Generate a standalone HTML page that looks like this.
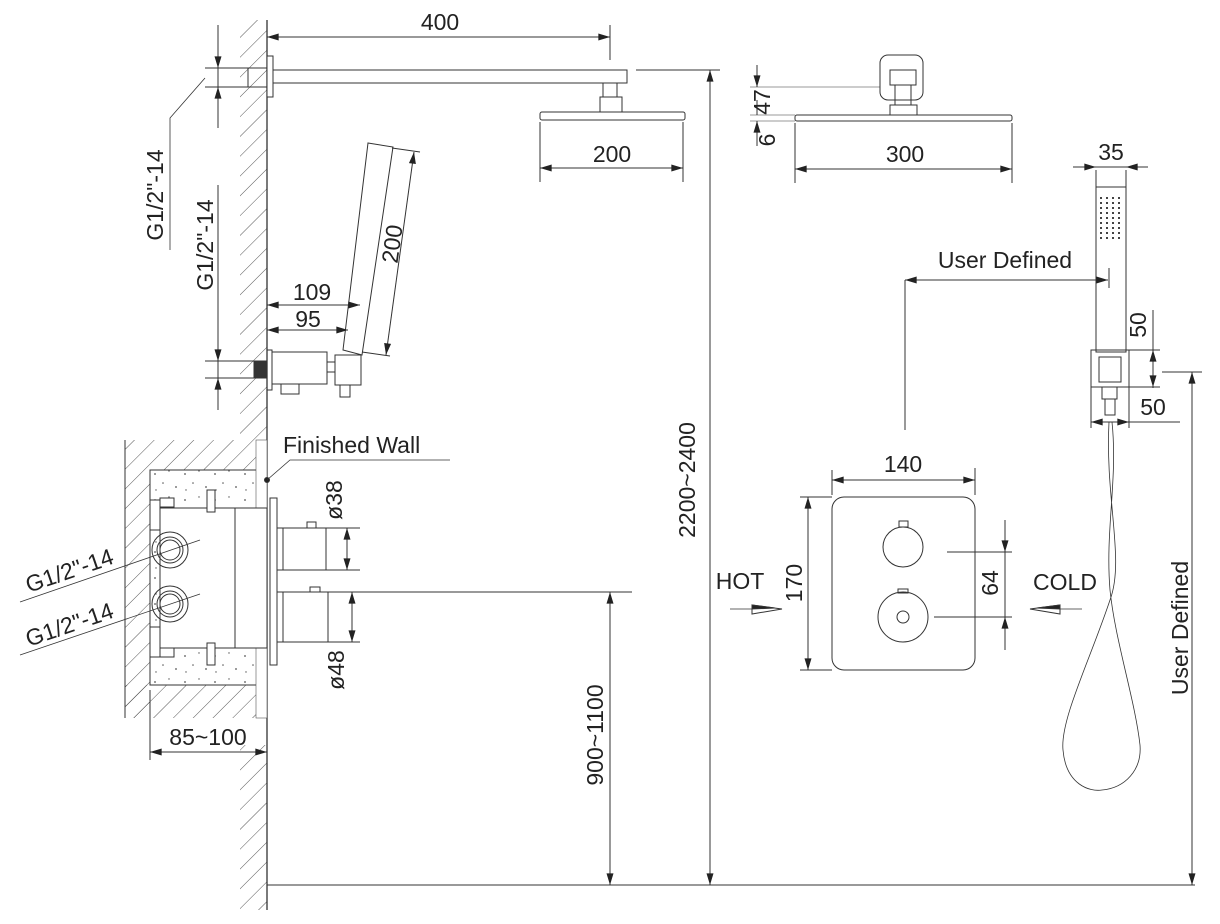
<!DOCTYPE html>
<html><head><meta charset="utf-8"><style>
html,body{margin:0;padding:0;background:#fff;}
svg{display:block;}
text{font-family:"Liberation Sans",sans-serif;fill:#222;}
</style></head><body>
<svg width="1220" height="924" viewBox="0 0 1220 924" xmlns="http://www.w3.org/2000/svg">
<defs>
<marker id="a" viewBox="0 0 10 6" refX="10" refY="3" markerWidth="16" markerHeight="7" markerUnits="userSpaceOnUse" orient="auto-start-reverse"><path d="M0,0L10,3L0,6z" fill="#222"/></marker>
<pattern id="h" patternUnits="userSpaceOnUse" width="14" height="14" patternTransform="rotate(45)"><line x1="0" y1="0" x2="0" y2="14" stroke="#444" stroke-width="0.9"/></pattern>
<pattern id="sp" patternUnits="userSpaceOnUse" width="30" height="26"><circle cx="5" cy="6" r="0.9" fill="#555"/><circle cx="19" cy="3" r="0.7" fill="#555"/><circle cx="13" cy="15" r="0.8" fill="#555"/><circle cx="26" cy="19" r="0.9" fill="#555"/><circle cx="6" cy="22" r="0.7" fill="#555"/></pattern>
</defs>
<g stroke="#333" stroke-width="1" fill="none">
<!-- wall hatch -->
<rect x="240" y="20" width="27" height="420" fill="url(#h)" stroke="none"/>
<rect x="240" y="745" width="27" height="165" fill="url(#h)" stroke="none"/>
<rect x="125" y="440" width="142" height="30" fill="url(#h)" stroke="none"/>
<rect x="125" y="470" width="25" height="248" fill="url(#h)" stroke="none"/>
<rect x="125" y="685" width="142" height="33" fill="url(#h)" stroke="none"/>
<line x1="125" y1="440" x2="125" y2="718"/>
<line x1="267" y1="20" x2="267" y2="910" stroke-width="1.3"/>
<line x1="267" y1="885" x2="1195" y2="885"/>
<!-- concrete box -->
<rect x="150" y="470" width="117" height="215" fill="#fff"/>
<rect x="150" y="470" width="117" height="215" fill="url(#sp)"/>
<rect x="256" y="440" width="11" height="278" fill="#fff" stroke="#555" stroke-width="0.6"/>
<rect x="160" y="508" width="107" height="140" fill="#fff"/>
<line x1="235" y1="508" x2="235" y2="648"/>
<rect x="150" y="500" width="10" height="30" fill="#fff"/>
<rect x="150" y="627" width="10" height="30" fill="#fff"/>
<rect x="160" y="498" width="14" height="9" fill="#fff"/>
<rect x="160" y="648" width="14" height="9" fill="#fff"/>
<rect x="207" y="490" width="8" height="22" fill="#fff"/>
<rect x="207" y="643" width="8" height="22" fill="#fff"/>
<circle cx="170" cy="550" r="18"/><circle cx="170" cy="550" r="13"/><circle cx="170" cy="550" r="10"/>
<circle cx="170" cy="604" r="18"/><circle cx="170" cy="604" r="13"/><circle cx="170" cy="604" r="10"/>
<line x1="20" y1="602" x2="200" y2="540" stroke-width="0.8"/>
<line x1="20" y1="655" x2="200" y2="594" stroke-width="0.8"/>
<!-- cover & knobs -->
<rect x="270" y="498" width="7" height="167" fill="#fff"/>
<rect x="277" y="528" width="6" height="42"/><rect x="283" y="528" width="43" height="42"/>
<rect x="307" y="522" width="9" height="6"/>
<rect x="277" y="592" width="6" height="50"/><rect x="283" y="592" width="45" height="50"/>
<rect x="310" y="587" width="10" height="5"/>
<line x1="326" y1="528" x2="360" y2="528"/><line x1="326" y1="570" x2="360" y2="570"/>
<line x1="347" y1="528" x2="347" y2="570" marker-start="url(#a)" marker-end="url(#a)"/>
<line x1="328" y1="592" x2="632" y2="592"/><line x1="328" y1="642" x2="360" y2="642"/>
<line x1="352" y1="592" x2="352" y2="642" marker-start="url(#a)" marker-end="url(#a)"/>
<!-- finished wall leader -->
<circle cx="267" cy="480" r="2.5" fill="#222"/>
<polyline points="267,480 290,460 450,460" stroke-width="0.8"/>
<!-- 85~100 -->
<line x1="150" y1="690" x2="150" y2="760"/>
<line x1="150" y1="752" x2="267" y2="752" marker-start="url(#a)" marker-end="url(#a)"/>
<!-- 900~1100 -->
<line x1="610" y1="592" x2="610" y2="885" marker-start="url(#a)" marker-end="url(#a)"/>
<!-- top arm -->
<rect x="267" y="56" width="6" height="41" fill="#fff"/>
<rect x="248" y="68" width="19" height="19"/>
<rect x="273" y="70" width="354" height="13"/>
<line x1="267" y1="37" x2="610" y2="37" marker-start="url(#a)" marker-end="url(#a)"/>
<line x1="610" y1="25" x2="610" y2="60"/>
<line x1="636" y1="70" x2="720" y2="70"/>
<rect x="603" y="83" width="14" height="14"/><rect x="600" y="97" width="22" height="15"/>
<rect x="540" y="112" width="145" height="8" rx="2"/>
<line x1="540" y1="122" x2="540" y2="182"/><line x1="683" y1="122" x2="683" y2="182"/>
<line x1="540" y1="168" x2="683" y2="168" marker-start="url(#a)" marker-end="url(#a)"/>
<line x1="710" y1="70" x2="710" y2="885" marker-start="url(#a)" marker-end="url(#a)"/>
<!-- left G1/2 dims -->
<line x1="218" y1="25" x2="218" y2="128"/>
<line x1="205" y1="68" x2="248" y2="68"/><line x1="205" y1="87" x2="248" y2="87"/>
<line x1="218" y1="40" x2="218" y2="68" marker-end="url(#a)"/><line x1="218" y1="115" x2="218" y2="87" marker-end="url(#a)"/>
<polyline points="205,78 170,118 170,250" stroke-width="0.8"/>
<line x1="218" y1="185" x2="218" y2="410"/>
<line x1="205" y1="361" x2="258" y2="361"/><line x1="205" y1="378" x2="258" y2="378"/>
<line x1="218" y1="330" x2="218" y2="361" marker-end="url(#a)"/><line x1="218" y1="405" x2="218" y2="378" marker-end="url(#a)"/>
<!-- hand shower wall outlet -->
<rect x="267" y="350" width="5" height="40"/>
<rect x="254" y="361" width="13" height="17" fill="#333"/>
<rect x="272" y="352" width="55" height="32"/>
<rect x="281" y="384" width="18" height="10"/>
<rect x="327" y="362" width="8" height="10"/>
<rect x="335" y="355" width="26" height="30"/>
<rect x="340" y="385" width="10" height="12"/>
<polygon points="368,143 393,147 362,355 343,350" fill="#fff"/>
<line x1="267" y1="305" x2="360" y2="305" marker-start="url(#a)" marker-end="url(#a)"/>
<line x1="267" y1="330" x2="348" y2="330" marker-start="url(#a)" marker-end="url(#a)"/>
<line x1="392" y1="148" x2="420" y2="152"/><line x1="362" y1="352" x2="390" y2="356"/>
<line x1="414" y1="152" x2="386" y2="355" marker-start="url(#a)" marker-end="url(#a)"/>
<!-- right head -->
<rect x="880" y="55" width="43" height="45" rx="8"/>
<rect x="890" y="70" width="26" height="15"/>
<rect x="895" y="85" width="16" height="20"/>
<rect x="890" y="105" width="27" height="10"/>
<rect x="795" y="115" width="217" height="6" rx="2"/>
<line x1="750" y1="87" x2="880" y2="87" stroke-width="0.6"/>
<line x1="750" y1="115" x2="795" y2="115" stroke-width="0.6"/>
<line x1="750" y1="121" x2="795" y2="121" stroke-width="0.6"/>
<line x1="757" y1="65" x2="757" y2="87" marker-end="url(#a)"/><line x1="757" y1="100" x2="757" y2="115"/>
<line x1="757" y1="146" x2="757" y2="121" marker-end="url(#a)"/>
<line x1="795" y1="123" x2="795" y2="183"/><line x1="1012" y1="123" x2="1012" y2="183"/>
<line x1="795" y1="169" x2="1012" y2="169" marker-start="url(#a)" marker-end="url(#a)"/>
<!-- right handshower -->
<rect x="1096" y="187" width="30" height="165"/>
<rect x="1091" y="350" width="38" height="37"/>
<rect x="1099" y="357" width="22" height="25"/>
<rect x="1102" y="387" width="15" height="12"/><rect x="1105" y="399" width="10" height="16"/>
<g fill="#444" stroke="none">
<rect x="1100" y="197" width="2" height="2"/><rect x="1100" y="202" width="2" height="2"/><rect x="1100" y="207" width="2" height="2"/><rect x="1100" y="212" width="2" height="2"/><rect x="1100" y="217" width="2" height="2"/><rect x="1100" y="222" width="2" height="2"/><rect x="1100" y="227" width="2" height="2"/><rect x="1100" y="232" width="2" height="2"/><rect x="1100" y="237" width="2" height="2"/>
<rect x="1106" y="197" width="2" height="2"/><rect x="1106" y="202" width="2" height="2"/><rect x="1106" y="207" width="2" height="2"/><rect x="1106" y="212" width="2" height="2"/><rect x="1106" y="217" width="2" height="2"/><rect x="1106" y="222" width="2" height="2"/><rect x="1106" y="227" width="2" height="2"/><rect x="1106" y="232" width="2" height="2"/><rect x="1106" y="237" width="2" height="2"/>
<rect x="1112" y="197" width="2" height="2"/><rect x="1112" y="202" width="2" height="2"/><rect x="1112" y="207" width="2" height="2"/><rect x="1112" y="212" width="2" height="2"/><rect x="1112" y="217" width="2" height="2"/><rect x="1112" y="222" width="2" height="2"/><rect x="1112" y="227" width="2" height="2"/><rect x="1112" y="232" width="2" height="2"/><rect x="1112" y="237" width="2" height="2"/>
<rect x="1118" y="197" width="2" height="2"/><rect x="1118" y="202" width="2" height="2"/><rect x="1118" y="207" width="2" height="2"/><rect x="1118" y="212" width="2" height="2"/><rect x="1118" y="217" width="2" height="2"/><rect x="1118" y="222" width="2" height="2"/><rect x="1118" y="227" width="2" height="2"/><rect x="1118" y="232" width="2" height="2"/><rect x="1118" y="237" width="2" height="2"/>
</g>
<line x1="1096" y1="170" x2="1096" y2="187"/><line x1="1126" y1="170" x2="1126" y2="187"/>
<line x1="1073" y1="167" x2="1096" y2="167" marker-end="url(#a)"/><line x1="1148" y1="167" x2="1126" y2="167" marker-end="url(#a)"/>
<line x1="1096" y1="167" x2="1126" y2="167"/>
<line x1="905" y1="280" x2="905" y2="430"/>
<line x1="905" y1="280" x2="1108" y2="280" marker-start="url(#a)" marker-end="url(#a)"/>
<line x1="1109" y1="268" x2="1109" y2="288"/>
<line x1="1129" y1="350" x2="1160" y2="350"/><line x1="1129" y1="387" x2="1160" y2="387"/>
<line x1="1153" y1="310" x2="1153" y2="388"/>
<line x1="1153" y1="360" x2="1153" y2="350" marker-end="url(#a)"/><line x1="1153" y1="377" x2="1153" y2="387" marker-end="url(#a)"/>
<line x1="1091" y1="387" x2="1091" y2="428"/><line x1="1129" y1="387" x2="1129" y2="428"/>
<line x1="1091" y1="422" x2="1180" y2="422"/>
<line x1="1091" y1="422" x2="1105" y2="422" marker-start="url(#a)"/>
<line x1="1115" y1="422" x2="1129" y2="422" marker-end="url(#a)"/>
<path d="M1109,422 C1105,500 1125,560 1110,600 C1090,660 1060,720 1063,750 C1066,785 1090,792 1102,790 C1125,788 1142,770 1140,745 C1135,700 1115,640 1110,590 C1105,530 1118,480 1112,422" stroke-width="0.8"/>
<line x1="1162" y1="372" x2="1202" y2="372"/>
<line x1="1192" y1="372" x2="1192" y2="885" marker-start="url(#a)" marker-end="url(#a)"/>
<!-- front plate -->
<rect x="832" y="497" width="143" height="173" rx="12"/>
<circle cx="903" cy="547" r="20"/><rect x="899" y="521" width="9" height="6"/>
<circle cx="903" cy="617" r="25"/><circle cx="903" cy="617" r="6"/><rect x="898" y="589" width="10" height="4"/>
<line x1="832" y1="470" x2="832" y2="495"/><line x1="975" y1="468" x2="975" y2="495"/>
<line x1="832" y1="480" x2="975" y2="480" marker-start="url(#a)" marker-end="url(#a)"/>
<line x1="800" y1="497" x2="832" y2="497"/><line x1="800" y1="670" x2="832" y2="670"/>
<line x1="808" y1="497" x2="808" y2="670" marker-start="url(#a)" marker-end="url(#a)"/>
<line x1="947" y1="552" x2="1012" y2="552"/><line x1="934" y1="617" x2="1012" y2="617"/>
<line x1="1005" y1="520" x2="1005" y2="650"/>
<line x1="1005" y1="530" x2="1005" y2="552" marker-end="url(#a)"/><line x1="1005" y1="640" x2="1005" y2="617" marker-end="url(#a)"/>
<line x1="730" y1="609" x2="782" y2="609" stroke-width="0.7"/>
<polygon points="752,605 782,609 752,614" fill="#fff"/><polygon points="752,605 775,608 752,609" fill="#222"/>
<line x1="1030" y1="609" x2="1082" y2="609" stroke-width="0.7"/>
<polygon points="1060,605 1030,609 1060,614" fill="#fff"/><polygon points="1060,605 1037,608 1060,609" fill="#222"/>
</g>
<g font-size="23">
<text x="440" y="30" text-anchor="middle">400</text>
<text x="612" y="162" text-anchor="middle">200</text>
<text x="905" y="162" text-anchor="middle">300</text>
<text x="1111" y="160" text-anchor="middle">35</text>
<text x="1005" y="268" text-anchor="middle">User Defined</text>
<text x="312" y="300" text-anchor="middle">109</text>
<text x="308" y="327" text-anchor="middle">95</text>
<text x="283" y="453">Finished Wall</text>
<text x="903" y="472" text-anchor="middle">140</text>
<text x="740" y="589" text-anchor="middle">HOT</text>
<text x="1065" y="590" text-anchor="middle">COLD</text>
<text x="208" y="745" text-anchor="middle">85~100</text>
<text x="1153" y="415" text-anchor="middle">50</text>
<text transform="translate(163,195) rotate(-90)" text-anchor="middle">G1/2"-14</text>
<text transform="translate(213,245) rotate(-90)" text-anchor="middle">G1/2"-14</text>
<text transform="translate(400,245) rotate(-82)" text-anchor="middle">200</text>
<text transform="translate(342,500) rotate(-90)" text-anchor="middle">ø38</text>
<text transform="translate(344,670) rotate(-90)" text-anchor="middle">ø48</text>
<text transform="translate(603,735) rotate(-90)" text-anchor="middle">900~1100</text>
<text transform="translate(695,480) rotate(-90)" text-anchor="middle">2200~2400</text>
<text transform="translate(1188,628) rotate(-90)" text-anchor="middle">User Defined</text>
<text transform="translate(802,583) rotate(-90)" text-anchor="middle">170</text>
<text transform="translate(998,583) rotate(-90)" text-anchor="middle">64</text>
<text transform="translate(1146,325) rotate(-90)" text-anchor="middle">50</text>
<text transform="translate(770,102) rotate(-90)" text-anchor="middle">47</text>
<text transform="translate(775,140) rotate(-90)" text-anchor="middle">6</text>
<text transform="translate(72,578) rotate(-19)" text-anchor="middle">G1/2"-14</text>
<text transform="translate(72,632) rotate(-19)" text-anchor="middle">G1/2"-14</text>
</g>
</svg>
</body></html>
